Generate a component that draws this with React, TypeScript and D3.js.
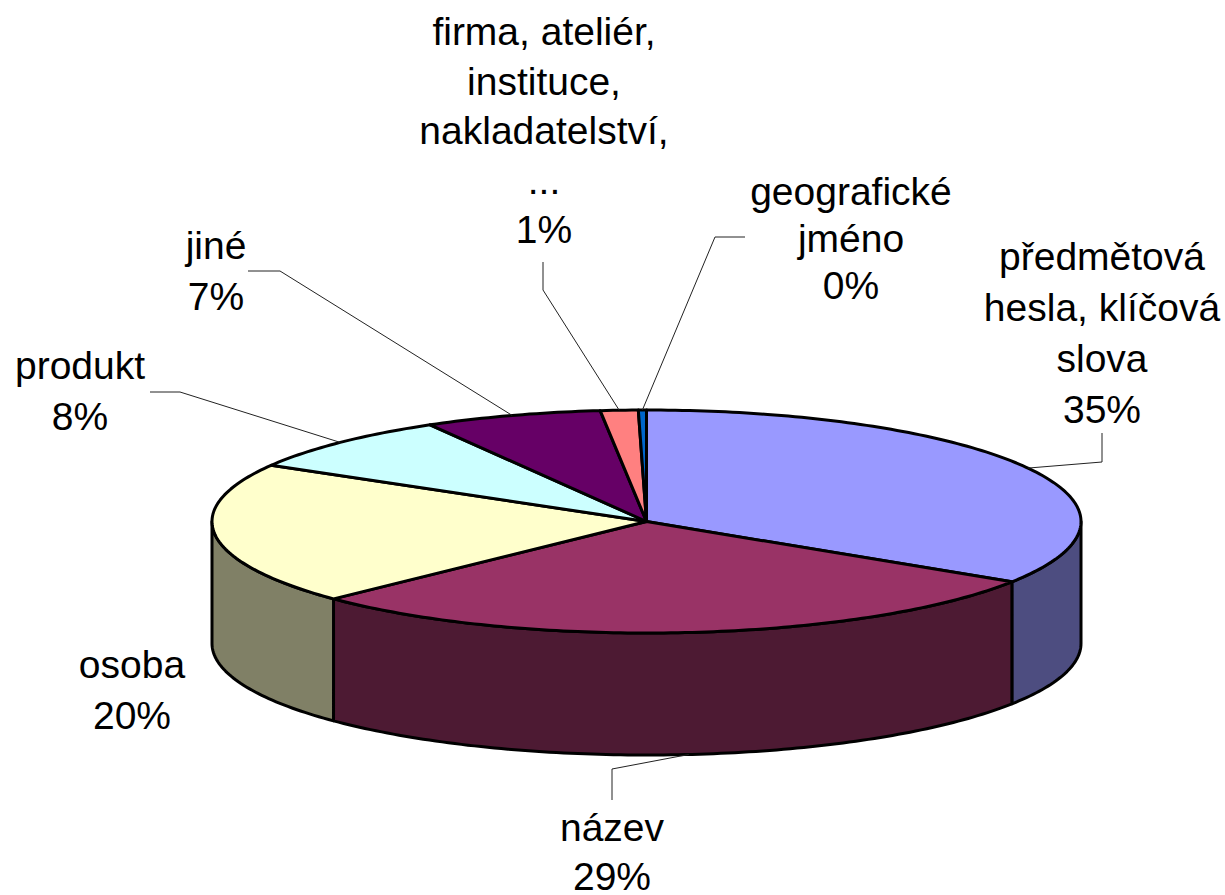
import * as d3 from "d3";

const categories = ["předmětová hesla, klíčová slova", "název", "osoba", "produkt", "jiné", "firma, ateliér, instituce, nakladatelství, ...", "geografické jméno"];
const shares = [34.1, 28.7, 20.6, 8.3, 6.6, 1.4, 0.3];
const percentLabels = ["35%", "29%", "20%", "8%", "7%", "1%", "0%"];
const topColors = ["#9999FF", "#993366", "#FFFFCC", "#CCFFFF", "#660066", "#FF8080", "#0066CC"];
const sideColors = ["#4D4D80", "#4D1A33", "#808066", "#668080", "#330033", "#804040", "#003366"];

const width = 1225;
const height = 895;
const cx = 646.5;
const cy = 521.5;
const rx = 434.5;
const ry = 111.5;
const depth = 122;
const fontSize = 39;

// label lines and the knee of each leader line, in slice order
const labelLines = [
  ["předmětová", "hesla, klíčová", "slova", percentLabels[0]],
  [categories[1], percentLabels[1]],
  [categories[2], percentLabels[2]],
  [categories[3], percentLabels[3]],
  [categories[4], percentLabels[4]],
  ["firma, ateliér,", "instituce,", "nakladatelství,", "...", percentLabels[5]],
  ["geografické", "jméno", percentLabels[6]],
];
const labelPos = [
  { x: 1102, y: 270, dy: 51 },
  { x: 612, y: 841, dy: 49 },
  { x: 132, y: 678, dy: 51 },
  { x: 80, y: 379, dy: 51 },
  { x: 216, y: 259, dy: 51 },
  { x: 544, y: 45, dy: 49.5 },
  { x: 851, y: 205, dy: 47 },
];
const leaderPaths = [
  [[1102, 433], [1102, 462]],
  [[612, 800], [612, 769]],
  null,
  [[150, 392], [180, 392]],
  [[248, 271], [280, 271]],
  [[543, 262], [543, 290]],
  [[745, 237], [715, 237]],
];

const px = (a: number) => cx + rx * Math.sin(a);
const py = (a: number) => cy - ry * Math.cos(a);
const line = d3.line();

const arcPoints = (a0: number, a1: number) => {
  const n = Math.max(2, Math.ceil((a1 - a0) * 60));
  return d3.range(n + 1).map((i) => {
    const a = a0 + ((a1 - a0) * i) / n;
    return [px(a), py(a)] as [number, number];
  });
};

const pie = d3.pie<number>().sort(null).value((d) => d);

export default function App() {
  const arcs = pie(shares);
  const rightEdge = Math.PI / 2;
  const leftEdge = (3 * Math.PI) / 2;

  return (
    <svg width={width} height={height} style={{ position: "absolute", left: 0, top: 0 }} fontFamily="'Liberation Sans', Arial, sans-serif">
      <rect width={width} height={height} fill="#fff" />
      {arcs.map((d, i) => {
        const a0 = Math.max(d.startAngle, rightEdge);
        const a1 = Math.min(d.endAngle, leftEdge);
        if (a1 <= a0) return null;
        const front = arcPoints(a0, a1);
        const back = front.map(([x, y]) => [x, y + depth] as [number, number]).reverse();
        return <path key={i} d={line([...front, ...back]) + "Z"} fill={sideColors[i]} stroke="#000" strokeWidth={3} strokeLinejoin="round" />;
      })}
      {arcs.map((d, i) => (
        <path
          key={i}
          d={line([[cx, cy], ...arcPoints(d.startAngle, d.endAngle)]) + "Z"}
          fill={topColors[i]}
          stroke="#000"
          strokeWidth={3}
          strokeLinejoin="round"
        />
      ))}
      {arcs.map((d, i) => {
        const knee = leaderPaths[i];
        if (!knee) return null;
        const mid = (d.startAngle + d.endAngle) / 2;
        const isFront = mid > rightEdge && mid < leftEdge;
        const end: [number, number] = [px(mid), py(mid) + (isFront ? depth : 0)];
        return <path key={i} d={line([...(knee as [number, number][]), end]) ?? ""} fill="none" stroke="#222" strokeWidth={1} />;
      })}
      {labelLines.map((lines, i) => (
        <text key={i} textAnchor="middle" fontSize={fontSize} fill="#000">
          {lines.map((t, j) => (
            <tspan key={j} x={labelPos[i].x} y={labelPos[i].y + j * labelPos[i].dy}>
              {t}
            </tspan>
          ))}
        </text>
      ))}
    </svg>
  );
}
